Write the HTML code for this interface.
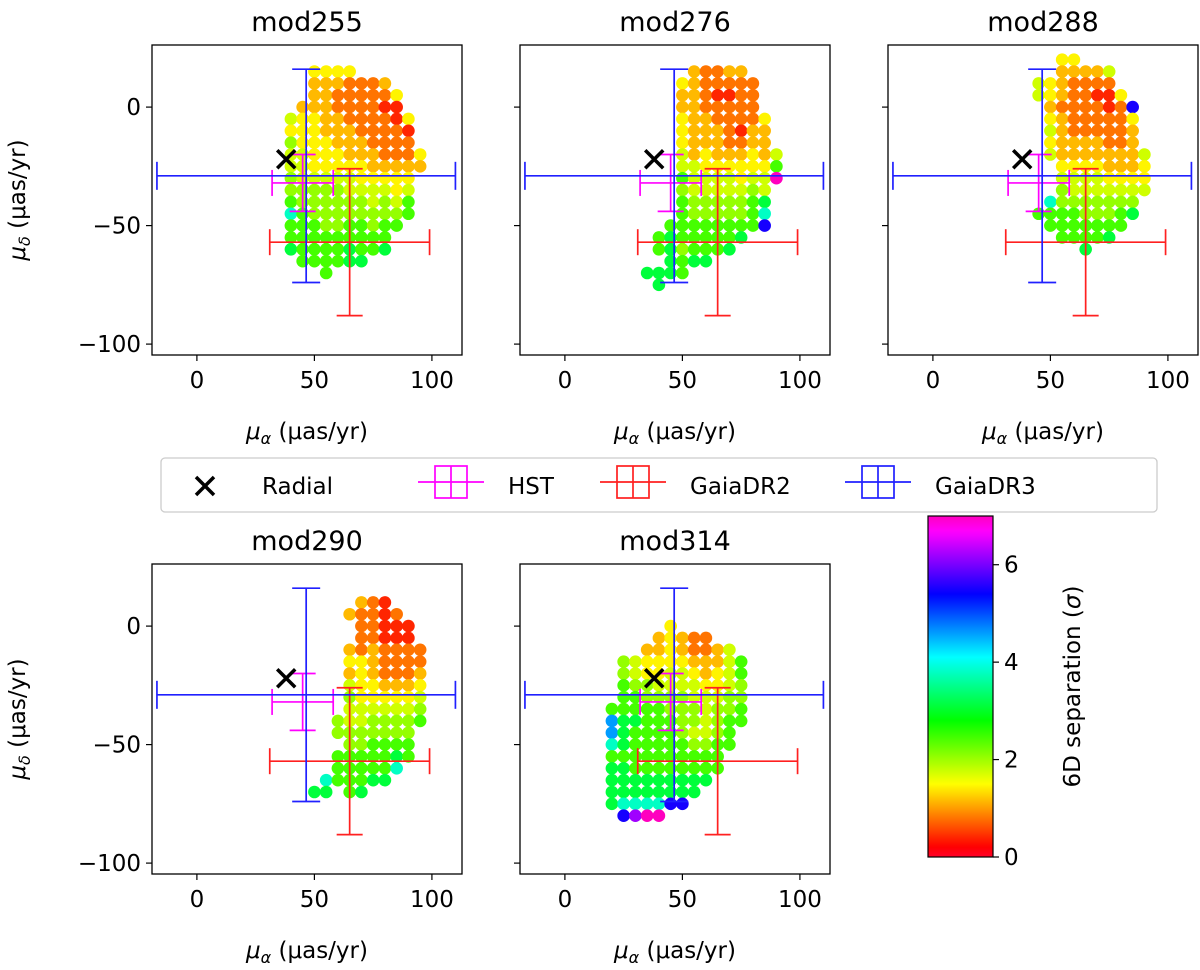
<!DOCTYPE html>
<html><head><meta charset="utf-8"><style>
html,body{margin:0;padding:0;background:#fff;}
svg{display:block;font-family:"DejaVu Sans","Liberation Sans",sans-serif;}
</style></head><body>
<svg id="fig" width="1200" height="970" viewBox="0 0 1200 970" xmlns="http://www.w3.org/2000/svg"></svg>
<script>
// ---- data ----
const panelNames = ["mod255","mod276","mod288","mod290","mod314"];
// level code -> 6D separation (sigma)
const levelCodes = {"0":0.4,"1":0.8,"2":1.15,"3":1.45,"4":1.75,"5":2.05,"6":2.45,"7":3.1,"8":3.8,"A":4.6,"9":5.5,"P":6.2,"M":7.0};
// columns: [mu_alpha, top mu_delta, codes top->bottom in 5-unit steps]
const cols255 = [[40,-5,"435445568667"],[45,0,"23334445566666"],[50,15,"32223333345556666"],[55,15,"322222333455556666"],[60,15,"32112223345555666"],[65,15,"31111222344556677"],[70,10,"1111122334556667"],[75,10,"111111223445566"],[80,10,"210111123455667"],[85,5,"300111233456"],[90,-5,"301123466"],[95,-20,"32"]];
const cols276 = [[35,-70,"7"],[40,-55,"66"],[40,-70,"77"],[45,-50,"67777"],[50,10,"32233344656666566"],[55,15,"22222222444556667"],[60,15,"11112223344556667"],[65,15,"1101122234455666"],[70,15,"2101111234455667"],[75,15,"211110123345567"],[80,10,"1111223345666"],[85,-5,"3222344789"],[90,-20,"46M"]];
const cols288 = [[45,10,"44"],[45,-45,"6"],[50,10,"3323434"],[50,-40,"866"],[55,20,"3222122223455666"],[60,20,"3211111223445666"],[65,15,"2111112234455667"],[70,15,"210111223445566"],[75,15,"410011122345567"],[80,5,"311112234566"],[85,0,"9322223457"],[90,-20,"4334"]];
const cols290 = [[50,-70,"7"],[55,-65,"87"],[60,-40,"55"],[60,-55,"666"],[65,5,"2"],[65,-10,"2324544556666"],[70,10,"21111333344556667"],[75,10,"1111222334556667"],[80,10,"0000111234556667"],[85,5,"10011123455678"],[90,0,"001112345566"],[95,-10,"1123456"]];
const cols314 = [[20,-35,"6AA867777"],[25,-15,"55666777677789"],[30,-15,"4456676666778P"],[35,-10,"23355666666778M"],[40,-5,"223345666666778M"],[45,0,"3333445566666779"],[50,-5,"223445555666779"],[55,-5,"11234455456677"],[60,-5,"1122344445667"],[65,-10,"22334555666"],[70,-10,"444455666"],[75,-15,"665566"]];
const panelCols = [cols255,cols276,cols288,cols290,cols314];
// reference measurements
const radialPt = [38,-22];
const hst = [45,-32,13,12];      // x, y, xerr, yerr
const gaia2 = [65,-57,34,31];
const gaia3 = [46.5,-29,63.5,45];
const xTicks = [0,50,100];
const yTicks = [0,-50,-100];
const cbTicks = [0,2,4,6];

// ---- helpers ----
const NS="http://www.w3.org/2000/svg";
const svg=document.getElementById('fig');
function mk(tag,attrs,parent){const e=document.createElementNS(NS,tag);for(const k in attrs)e.setAttribute(k,attrs[k]);(parent||svg).appendChild(e);return e;}
const rb=[[0,[1,0,0.16]],[0.03,[1,0,0]],[0.215,[1,1,0]],[0.4,[0,1,0]],[0.586,[0,1,1]],[0.77,[0,0,1]],[0.954,[1,0,1]],[1,[1,0,0.75]]];
function cmap(v){let t=Math.max(0,Math.min(1,v/7));for(let i=1;i<rb.length;i++){if(t<=rb[i][0]){const a=rb[i-1],b=rb[i];const f=(t-a[0])/(b[0]-a[0]);const c=a[1].map((x,j)=>Math.round(255*(x+(b[1][j]-x)*f)));return `rgb(${c[0]},${c[1]},${c[2]})`;}}return 'rgb(255,0,191)';}
const XMIN=-19.1,XMAX=112.8,YMIN=-104.6,YMAX=26.2,W=310,H=310;
const origins=[[152,45],[520,45],[888,45],[152,564],[520,564]];
const FS=23;

const defs=mk('defs',{});
origins.forEach((o,pi)=>{
  const [x0,y0]=o;
  const sx=v=>x0+(v-XMIN)/(XMAX-XMIN)*W;
  const sy=v=>y0+(YMAX-v)/(YMAX-YMIN)*H;
  const g=mk('g',{});
  
  
  const cp=mk('clipPath',{id:'cp'+pi},defs);mk('rect',{x:x0,y:y0,width:W,height:H},cp);
  const pg=mk('g',{'clip-path':`url(#cp${pi})`},g);
  panelCols[pi].forEach(c=>{
    const [mx,top,codes]=c;
    for(let k=0;k<codes.length;k++){
      const d=mk('circle',{cx:sx(mx),cy:sy(top-5*k),r:6.3,fill:cmap(levelCodes[codes[k]])},pg);
      
      
    }
  });
  function eb(e,color,cap,name){
    const eg=mk('g',{stroke:color,'stroke-width':1.7,fill:'none'},pg);
    
    
    const [x,y,xe,ye]=e;
    mk('line',{x1:sx(x-xe),y1:sy(y),x2:sx(x+xe),y2:sy(y)},eg);
    mk('line',{x1:sx(x),y1:sy(y-ye),x2:sx(x),y2:sy(y+ye)},eg);
    mk('line',{x1:sx(x-xe),y1:sy(y)-cap,x2:sx(x-xe),y2:sy(y)+cap},eg);
    mk('line',{x1:sx(x+xe),y1:sy(y)-cap,x2:sx(x+xe),y2:sy(y)+cap},eg);
    mk('line',{x1:sx(x)-cap,y1:sy(y-ye),x2:sx(x)+cap,y2:sy(y-ye)},eg);
    mk('line',{x1:sx(x)-cap,y1:sy(y+ye),x2:sx(x)+cap,y2:sy(y+ye)},eg);
  }
  eb(hst,'#ff00ff',13,'hst-errorbar');
  eb(gaia2,'#ff2020',13,'gaiadr2-errorbar');
  eb(gaia3,'#2020ff',14,'gaiadr3-errorbar');
  const rx=sx(radialPt[0]),ry=sy(radialPt[1]);
  const m=mk('path',{d:`M${rx-9},${ry-9}L${rx+9},${ry+9}M${rx-9},${ry+9}L${rx+9},${ry-9}`,stroke:'#000','stroke-width':3.5},pg);
  
  
  const fr=mk('rect',{x:x0,y:y0,width:W,height:H,fill:'none',stroke:'#000','stroke-width':1.3},g);
  
  
  xTicks.forEach(t=>{
    mk('line',{x1:sx(t),y1:y0+H,x2:sx(t),y2:y0+H+6,stroke:'#000','stroke-width':1.2},g);
    const tl=mk('text',{x:sx(t),y:y0+H+33,'font-size':FS,'text-anchor':'middle'},g);
    tl.textContent=String(t);
    
    
  });
  yTicks.forEach(t=>{
    mk('line',{x1:x0-6,y1:sy(t),x2:x0,y2:sy(t),stroke:'#000','stroke-width':1.2},g);
    if(pi===0||pi===3){
      const tl=mk('text',{x:x0-11,y:sy(t)+8,'font-size':FS,'text-anchor':'end'},g);
      tl.textContent=t<0?'\u2212'+(-t):String(t);
      
      
    }
  });
  const xt=mk('text',{x:x0+W/2,y:y0+H+84,'font-size':FS,'text-anchor':'middle'},g);
  xt.innerHTML='<tspan font-style="italic">μ</tspan><tspan font-style="italic" font-size="16" dy="5">α</tspan><tspan dy="-5"> (μas/yr)</tspan>';
  
  
  if(pi===0||pi===3){
    const yt=mk('text',{x:0,y:0,'font-size':FS,'text-anchor':'middle',transform:`translate(${x0-127},${y0+H/2}) rotate(-90)`},g);
    yt.innerHTML='<tspan font-style="italic">μ</tspan><tspan font-style="italic" font-size="16" dy="5">δ</tspan><tspan dy="-5"> (μas/yr)</tspan>';
    
    
  }
  const ti=mk('text',{x:x0+W/2,y:y0-14,'font-size':27,'text-anchor':'middle'},g);
  ti.textContent=panelNames[pi];
  
  
});

// legend
const lg=mk('g',{});


mk('rect',{x:161,y:458,width:996,height:54,rx:4,fill:'#fff',stroke:'#ccc','stroke-width':1.3},lg);
const lx=mk('path',{d:'M196,477L214,495M196,495L214,477',stroke:'#000','stroke-width':3.5},lg);


const lt0=mk('text',{x:262,y:494,'font-size':FS},lg);lt0.textContent='Radial';


[[451,'#ff00ff','HST'],[633,'#ff2020','GaiaDR2'],[878,'#2020ff','GaiaDR3']].forEach(e=>{
  const [cx,col,lab]=e;
  const eg=mk('g',{stroke:col,'stroke-width':1.7,fill:'none'},lg);
  
  
  mk('line',{x1:cx-33,y1:482,x2:cx+33,y2:482},eg);
  mk('line',{x1:cx,y1:466,x2:cx,y2:498},eg);
  mk('rect',{x:cx-16,y:466,width:32,height:32},eg);
  const t=mk('text',{x:cx+57,y:494,'font-size':FS},lg);t.textContent=lab;
  
  
});

// colorbar
const cb=mk('g',{});


const lgd=mk('linearGradient',{id:'cbg',x1:0,y1:1,x2:0,y2:0},defs);
for(let i=0;i<=70;i++){mk('stop',{offset:(i/70),'stop-color':cmap(i/10)},lgd);}
const CBX=928,CBT=516,CBB=857,CBW=65;
mk('rect',{x:CBX,y:CBT,width:CBW,height:CBB-CBT,fill:'url(#cbg)',stroke:'#000','stroke-width':1.2},cb);
const cy=v=>CBB-(v/7)*(CBB-CBT);
cbTicks.forEach(t=>{
  mk('line',{x1:CBX+CBW,y1:cy(t),x2:CBX+CBW+6,y2:cy(t),stroke:'#000','stroke-width':1.2},cb);
  const tl=mk('text',{x:CBX+CBW+11,y:cy(t)+8,'font-size':FS},cb);tl.textContent=String(t);
  
  
});
const cbl=mk('text',{x:0,y:0,'font-size':FS,'text-anchor':'middle',transform:`translate(1080,${(CBT+CBB)/2}) rotate(-90)`},cb);
cbl.innerHTML='6D separation (<tspan font-style="italic">σ</tspan>)';


</script>
</body></html>
